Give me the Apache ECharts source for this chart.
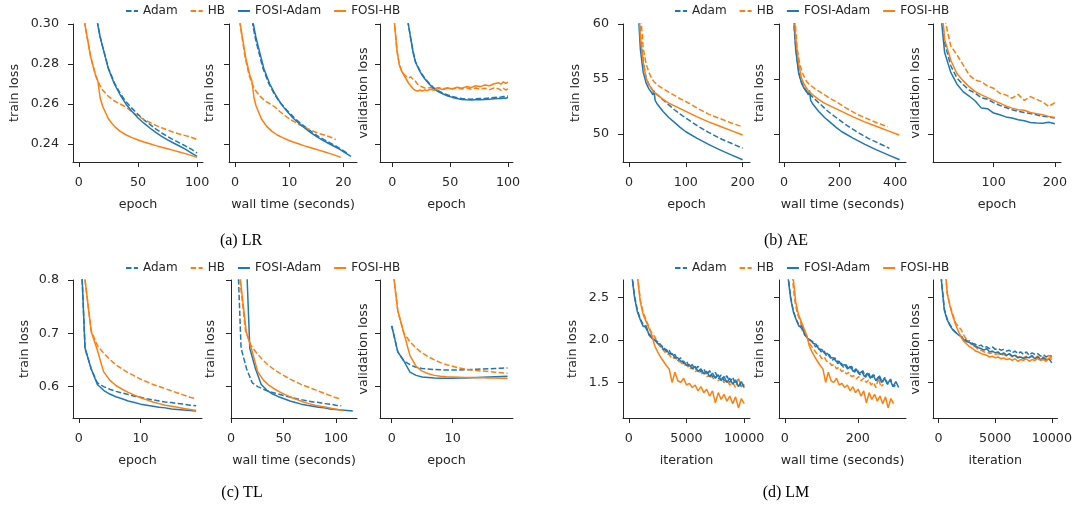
<!DOCTYPE html>
<html><head><meta charset="utf-8">
<script src="https://cdn.jsdelivr.net/npm/echarts@6/dist/echarts.min.js"></script>
<style>html,body{margin:0;padding:0;background:#fff}#c{width:1075px;height:508px}</style>
</head><body><div id="c"></div>
<script>
// ---------------- DATA ----------------
const SERIES_NAMES = ['Adam', 'HB', 'FOSI-Adam', 'FOSI-HB'];

// (a) LR
const LR_EPOCHS = [0,5,10,14,16,18,20,25,30,35,40,45,50,55,60,65,70,75,80,85,90,95,100];
const LR_TRAIN_ADAM      = [0.40,0.355,0.325,0.308,0.2995,0.2935,0.2888,0.2779,0.2706,0.2652,0.2610,0.2578,0.2548,0.2521,0.2498,0.2476,0.2455,0.2437,0.2421,0.2406,0.2391,0.2374,0.2356];
const LR_TRAIN_HB        = [0.345,0.300,0.2835,0.2745,0.2715,0.2690,0.2670,0.2638,0.2615,0.2600,0.2583,0.2560,0.2540,0.2522,0.2508,0.2493,0.2481,0.2470,0.2459,0.2450,0.2442,0.2434,0.2422];
const LR_TRAIN_FOSI_ADAM = [0.40,0.355,0.325,0.308,0.2995,0.2935,0.2888,0.2775,0.2700,0.2645,0.2598,0.2562,0.2530,0.2504,0.2480,0.2458,0.2438,0.2421,0.2405,0.2390,0.2374,0.2356,0.2338];
const LR_TRAIN_FOSI_HB   = [0.345,0.300,0.2835,0.2745,0.2715,0.2630,0.2590,0.2525,0.2488,0.2463,0.2445,0.2432,0.2420,0.2410,0.2401,0.2392,0.2384,0.2376,0.2368,0.2360,0.2352,0.2343,0.2333];
const LR_TIME_ADAM      = [0,1.03,2.06,2.88,3.30,3.71,4.12,5.15,6.18,7.21,8.24,9.27,10.30,11.33,12.36,13.39,14.42,15.45,16.48,17.51,18.54,19.57,20.60];
const LR_TIME_HB        = [0,0.93,1.86,2.60,2.98,3.35,3.72,4.65,5.58,6.51,7.44,8.37,9.30,10.23,11.16,12.09,13.02,13.95,14.88,15.81,16.74,17.67,18.60];
const LR_TIME_FOSI_ADAM = [0,1.07,2.14,3.00,3.42,3.85,4.28,5.35,6.42,7.49,8.56,9.63,10.70,11.77,12.84,13.91,14.98,16.05,17.12,18.19,19.26,20.33,21.40];
const LR_TIME_FOSI_HB   = [0,0.98,1.95,2.73,3.12,3.51,3.90,4.88,5.85,6.83,7.80,8.78,9.75,10.73,11.70,12.68,13.65,14.63,15.60,16.58,17.55,18.53,19.50];
const LR_VAL_EPOCHS = [0,2,4,6,8,10,12,14,16,18,20,22,24,26,28,30,33,36,40,44,48,52,56,60,64,68,72,76,80,84,88,92,94,96,98,100];
const LR_VAL_ADAM      = [0.42,0.39,0.36,0.34,0.325,0.314,0.306,0.2995,0.2925,0.2860,0.2812,0.2788,0.2766,0.2746,0.2730,0.2716,0.2697,0.2680,0.2665,0.2654,0.2645,0.2637,0.2631,0.2627,0.2625,0.2624,0.2626,0.2627,0.2628,0.2630,0.2632,0.2634,0.2635,0.2637,0.2638,0.2640];
const LR_VAL_HB        = [0.35,0.300,0.2870,0.2800,0.2768,0.2750,0.2738,0.2730,0.2736,0.2722,0.2714,0.2698,0.2690,0.2685,0.2680,0.2678,0.2683,0.2676,0.2682,0.2676,0.2681,0.2676,0.2680,0.2675,0.2681,0.2674,0.2680,0.2673,0.2679,0.2672,0.2680,0.2676,0.2668,0.2678,0.2670,0.2676];
const LR_VAL_FOSI_ADAM = [0.42,0.39,0.36,0.34,0.325,0.314,0.306,0.2995,0.2925,0.2860,0.2810,0.2785,0.2762,0.2742,0.2726,0.2712,0.2693,0.2676,0.2661,0.2650,0.2640,0.2633,0.2627,0.2623,0.2621,0.2620,0.2621,0.2621,0.2623,0.2624,0.2626,0.2628,0.2627,0.2630,0.2629,0.2632];
const LR_VAL_FOSI_HB   = [0.35,0.300,0.2872,0.2797,0.2765,0.2745,0.2725,0.2705,0.2690,0.2676,0.2668,0.2664,0.2670,0.2665,0.2671,0.2667,0.2674,0.2669,0.2677,0.2672,0.2680,0.2675,0.2684,0.2679,0.2687,0.2682,0.2691,0.2687,0.2695,0.2691,0.2701,0.2706,0.2699,0.2711,0.2703,0.2709];

// (b) AE
const AE_EPOCHS = [0,10,15,18,20,25,30,35,40,42,44,46,50,60,70,80,90,100,120,140,160,180,200];
const AE_TRAIN_ADAM      = [90,70,64,60.8,59.0,56.6,55.1,54.5,54.1,53.95,53.8,53.7,53.55,53.1,52.65,52.2,51.8,51.45,50.75,50.15,49.6,49.15,48.7];
const AE_TRAIN_HB        = [95,75,67,63.0,61.2,57.8,56.4,55.6,55.05,54.9,54.75,54.6,54.45,54.1,53.8,53.5,53.2,52.95,52.35,51.8,51.4,51.0,50.65];
const AE_TRAIN_FOSI_ADAM = [90,68,63,59.5,57.7,55.6,54.65,54.1,53.75,53.55,53.95,53.05,52.7,52.05,51.5,51.05,50.6,50.2,49.6,49.05,48.55,48.1,47.65];
const AE_TRAIN_FOSI_HB   = [90,70,64,60.8,58.8,56.5,55.1,54.5,54.1,53.95,53.8,53.7,53.55,53.15,52.8,52.55,52.3,52.05,51.55,51.1,50.7,50.3,49.9];
const AE_TIME_ADAM      = [0,19.0,28.4,34.1,37.9,47.4,56.9,66.3,75.8,79.6,83.4,87.2,94.8,113.7,132.7,151.6,170.6,189.5,227.4,265.3,303.2,341.1,379.0];
const AE_TIME_HB        = [0,18.7,28.0,33.6,37.3,46.6,56.0,65.3,74.6,78.3,82.1,85.8,93.3,111.9,130.6,149.2,167.9,186.5,223.8,261.1,298.4,335.7,373.0];
const AE_TIME_FOSI_ADAM = [0,20.8,31.2,37.4,41.6,52.0,62.4,72.8,83.2,87.4,91.5,95.7,104.0,124.8,145.6,166.4,187.2,208.0,249.6,291.2,332.8,374.4,416.0];
const AE_TIME_FOSI_HB   = [0,20.7,31.1,37.3,41.4,51.8,62.1,72.5,82.8,86.9,91.1,95.2,103.5,124.2,144.9,165.6,186.3,207.0,248.4,289.8,331.2,372.6,414.0];
const AE_VAL_EPOCHS = [0,10,20,30,40,50,60,70,80,90,100,110,120,130,140,150,160,170,180,190,200];
const AE_VAL_ADAM      = [95,64,58.3,56.2,55.1,54.5,54.0,53.7,53.3,53.15,52.85,52.6,52.4,52.2,52.05,51.95,51.85,51.75,51.6,51.55,51.45];
const AE_VAL_HB        = [100,70,60.5,58.0,57.2,56.3,55.35,54.9,54.75,54.35,54.15,53.7,53.55,53.25,53.6,53.05,53.4,53.15,52.9,52.5,52.85];
const AE_VAL_FOSI_ADAM = [95,63,57.4,55.6,54.55,53.85,53.45,53.0,52.35,52.3,51.9,51.75,51.55,51.45,51.3,51.2,51.05,51.0,50.98,51.06,50.92];
const AE_VAL_FOSI_HB   = [95,65,58.6,56.7,55.5,54.85,54.3,53.85,53.55,53.3,53.05,52.8,52.55,52.35,52.2,52.15,51.95,51.85,51.75,51.6,51.5];

// (c) TL
const TL_EPOCHS = [0,1,2,3,4,5,6,7,8,9,10,11,12,13,14,15,16,17,18,19];
const TL_TRAIN_ADAM      = [0.95,0.672,0.633,0.607,0.600,0.595,0.591,0.588,0.585,0.582,0.580,0.577,0.575,0.573,0.571,0.570,0.568,0.567,0.565,0.564];
const TL_TRAIN_HB        = [1.2,0.80,0.705,0.677,0.663,0.651,0.641,0.633,0.626,0.620,0.614,0.609,0.604,0.600,0.596,0.592,0.588,0.584,0.580,0.577];
const TL_TRAIN_FOSI_ADAM = [0.95,0.672,0.633,0.604,0.593,0.586,0.581,0.577,0.573,0.570,0.567,0.565,0.563,0.561,0.560,0.558,0.557,0.556,0.555,0.554];
const TL_TRAIN_FOSI_HB   = [1.2,0.80,0.703,0.668,0.628,0.612,0.602,0.595,0.589,0.584,0.579,0.575,0.571,0.568,0.565,0.563,0.561,0.559,0.557,0.555];
const TL_TIME_ADAM      = [4.3,9.6,14.9,20.2,25.5,30.8,36.1,41.4,46.7,52.0,57.3,62.6,67.9,73.2,78.5,83.8,89.1,94.4,99.7,105.0];
const TL_TIME_HB        = [3.2,8.5,13.8,19.1,24.4,29.7,35.0,40.3,45.6,50.9,56.2,61.5,66.8,72.1,77.4,82.7,88.0,93.3,98.6,103.9];
const TL_TIME_FOSI_ADAM = [12.5,17.9,23.4,28.8,34.3,39.7,45.2,50.6,56.1,61.5,67.0,72.4,77.9,83.3,88.8,94.2,99.7,105.1,110.6,116.0];
const TL_TIME_FOSI_HB   = [3.5,9.0,14.5,19.9,25.4,30.8,36.3,41.7,47.2,52.6,58.1,63.5,69.0,74.4,79.9,85.3,90.8,96.2,101.7,107.1];
const TL_VAL_ADAM      = [0.714,0.665,0.648,0.641,0.636,0.634,0.633,0.632,0.6315,0.631,0.631,0.631,0.6315,0.632,0.6325,0.633,0.6335,0.634,0.6345,0.635];
const TL_VAL_HB        = [0.838,0.742,0.700,0.684,0.672,0.663,0.656,0.650,0.645,0.641,0.638,0.635,0.633,0.631,0.630,0.629,0.628,0.627,0.626,0.625];
const TL_VAL_FOSI_ADAM = [0.714,0.665,0.648,0.627,0.621,0.618,0.617,0.616,0.6155,0.6155,0.6155,0.616,0.616,0.6165,0.617,0.6175,0.618,0.6185,0.619,0.6195];
const TL_VAL_FOSI_HB   = [0.838,0.742,0.700,0.658,0.638,0.629,0.624,0.621,0.6195,0.6185,0.618,0.6175,0.617,0.617,0.6165,0.6165,0.616,0.616,0.6155,0.6155];

// (d) LM
const LM_ITERS = [0,250,500,750,1000,1250,1500,1750,2000,2250,2500,2750,3000,3250,3500,3750,4000,4250,4500,4750,5000,5250,5500,5750,6000,6250,6500,6750,7000,7250,7500,7750,8000,8250,8500,8750,9000,9250,9500,9750,10000];
const LM_TRAIN_ADAM      = [4.0,2.80,2.52,2.35,2.25,2.18,2.14,2.07,2.04,2.00,1.98,1.92,1.93,1.86,1.88,1.81,1.83,1.76,1.79,1.72,1.75,1.68,1.71,1.65,1.69,1.62,1.66,1.59,1.64,1.56,1.62,1.54,1.59,1.52,1.58,1.50,1.56,1.48,1.54,1.45,1.47];
const LM_TRAIN_HB        = [5.0,4.0,3.2,2.76,2.47,2.32,2.24,2.15,2.08,2.04,1.96,1.92,1.88,1.84,1.83,1.78,1.80,1.75,1.74,1.70,1.71,1.66,1.68,1.63,1.64,1.60,1.62,1.57,1.58,1.54,1.57,1.52,1.55,1.50,1.53,1.47,1.50,1.44,1.55,1.45,1.48];
const LM_TRAIN_FOSI_ADAM = [4.0,2.78,2.50,2.33,2.24,2.16,2.17,2.06,2.02,2.00,1.96,1.95,1.89,1.89,1.84,1.84,1.79,1.79,1.75,1.75,1.70,1.71,1.66,1.69,1.63,1.66,1.60,1.63,1.57,1.61,1.55,1.59,1.52,1.57,1.50,1.55,1.48,1.53,1.45,1.51,1.44];
const LM_TRAIN_FOSI_HB   = [5.0,4.0,3.2,2.75,2.45,2.30,2.22,2.14,2.06,1.93,1.86,1.80,1.75,1.70,1.66,1.50,1.62,1.52,1.50,1.55,1.47,1.49,1.44,1.47,1.40,1.45,1.38,1.42,1.34,1.40,1.26,1.38,1.30,1.36,1.28,1.34,1.25,1.33,1.20,1.31,1.25];
const LM_TIME_ADAM      = [0,7.6,15.3,22.9,30.5,38.1,45.8,53.4,61.0,68.6,76.3,83.9,91.5,99.1,106.8,114.4,122.0,129.6,137.3,144.9,152.5,160.1,167.8,175.4,183.0,190.6,198.3,205.9,213.5,221.1,228.8,236.4,244.0,251.6,259.3,266.9,274.5,282.1,289.8,297.4,305.0];
const LM_TIME_HB        = [0,6.8,13.5,20.3,27.0,33.8,40.5,47.3,54.0,60.8,67.5,74.3,81.0,87.8,94.5,101.3,108.0,114.8,121.5,128.3,135.0,141.8,148.5,155.3,162.0,168.8,175.5,182.3,189.0,195.8,202.5,209.3,216.0,222.8,229.5,236.3,243.0,249.8,256.5,263.3,270.0];
const LM_TIME_FOSI_ADAM = [0,7.8,15.6,23.4,31.2,39.0,46.8,54.6,62.4,70.2,78.0,85.8,93.6,101.4,109.2,117.0,124.8,132.6,140.4,148.2,156.0,163.8,171.6,179.4,187.2,195.0,202.8,210.6,218.4,226.2,234.0,241.8,249.6,257.4,265.2,273.0,280.8,288.6,296.4,304.2,312.0];
const LM_TIME_FOSI_HB   = [0,7.5,14.9,22.4,29.8,37.3,44.7,52.2,59.6,67.1,74.5,82.0,89.4,96.9,104.3,111.8,119.2,126.7,134.1,141.6,149.0,156.5,163.9,171.4,178.8,186.3,193.7,201.2,208.6,216.1,223.5,231.0,238.4,245.9,253.3,260.8,268.2,275.7,283.1,290.6,298.0];
const LM_VAL_ADAM      = [3.5,2.70,2.37,2.25,2.18,2.13,2.09,2.07,2.04,2.02,1.99,1.99,1.96,1.95,1.93,1.94,1.91,1.92,1.90,1.92,1.89,1.90,1.88,1.89,1.87,1.88,1.85,1.87,1.84,1.86,1.83,1.86,1.82,1.85,1.83,1.84,1.81,1.83,1.80,1.82,1.81];
const LM_VAL_HB        = [5.0,3.8,3.0,2.56,2.41,2.30,2.20,2.16,2.12,2.05,2.00,1.97,1.93,1.92,1.89,1.88,1.86,1.86,1.84,1.85,1.83,1.84,1.82,1.83,1.81,1.83,1.80,1.82,1.80,1.81,1.79,1.81,1.80,1.82,1.79,1.81,1.78,1.80,1.78,1.82,1.79];
const LM_VAL_FOSI_ADAM = [3.5,2.69,2.35,2.24,2.17,2.12,2.09,2.06,2.04,2.00,1.98,1.97,1.95,1.93,1.91,1.90,1.88,1.90,1.86,1.87,1.85,1.86,1.83,1.85,1.82,1.84,1.81,1.82,1.79,1.80,1.78,1.80,1.79,1.81,1.78,1.80,1.77,1.79,1.76,1.78,1.73];
const LM_VAL_FOSI_HB   = [5.0,3.8,3.0,2.55,2.40,2.28,2.18,2.10,2.03,1.98,1.95,1.92,1.90,1.87,1.86,1.84,1.83,1.82,1.80,1.81,1.79,1.80,1.78,1.79,1.77,1.78,1.76,1.78,1.75,1.77,1.76,1.78,1.75,1.77,1.76,1.78,1.76,1.77,1.75,1.79,1.77];

// tick labels
const LR_YTICKS = [0.24,0.26,0.28,0.30];
const AE_YTICKS = [50,55,60];
const TL_YTICKS = [0.6,0.7,0.8];
const LM_YTICKS = [1.5,2.0,2.5];
const LR_XTICKS_EPOCH = [0,50,100];
const LR_XTICKS_TIME = [0,10,20];
const AE_XTICKS_EPOCH = [0,100,200];
const AE_XTICKS_TIME = [0,200,400];
const AE_XTICKS_VAL = [100,200];
const TL_XTICKS_EPOCH = [0,10];
const TL_XTICKS_TIME = [0,50,100];
const LM_XTICKS_ITER = [0,5000,10000];
const LM_XTICKS_TIME = [0,200];
const CAPTIONS = ['(a) LR','(b) AE','(c) TL','(d) LM'];

// ---------------- CHART ----------------
const FONT = 'DejaVu Sans';
const TXT = '#262626';
const FS = 12.7;
const COLORS = {'Adam':'#1f77b4','HB':'#ff7f0e','FOSI-Adam':'#1f77b4','FOSI-HB':'#ff7f0e'};
const DASHED = {'Adam':true,'HB':true,'FOSI-Adam':false,'FOSI-HB':false};

const YSPEC = {
  LR:{min:0.231,max:0.30,ticks:LR_YTICKS,fmt:v=>v.toFixed(2)},
  AE:{min:47.45,max:60,ticks:AE_YTICKS,fmt:v=>String(Math.round(v))},
  TL:{min:0.541,max:0.8,ticks:TL_YTICKS,fmt:v=>v.toFixed(1)},
  LM:{min:1.081,max:2.708,ticks:LM_YTICKS,fmt:v=>v.toFixed(1)}
};

const PANELS = [
  {ds:'LR',box:[73,24,130,138],xr:[-5,105],xt:LR_XTICKS_EPOCH,xname:'epoch',yname:'train loss',ygap:52,ylab:true,
   lines:[[LR_EPOCHS,LR_TRAIN_ADAM],[LR_EPOCHS,LR_TRAIN_HB],[LR_EPOCHS,LR_TRAIN_FOSI_ADAM],[LR_EPOCHS,LR_TRAIN_FOSI_HB]]},
  {ds:'LR',box:[229,24,128,138],xr:[-1.1,22.5],xt:LR_XTICKS_TIME,xname:'wall time (seconds)',yname:'train loss',ygap:13,ylab:false,
   lines:[[LR_TIME_ADAM,LR_TRAIN_ADAM],[LR_TIME_HB,LR_TRAIN_HB],[LR_TIME_FOSI_ADAM,LR_TRAIN_FOSI_ADAM],[LR_TIME_FOSI_HB,LR_TRAIN_FOSI_HB]]},
  {ds:'LR',box:[380,24,133,138],xr:[-10.6,104.3],xt:LR_XTICKS_EPOCH,xname:'epoch',yname:'validation loss',ygap:10,ylab:false,
   lines:[[LR_VAL_EPOCHS,LR_VAL_ADAM],[LR_VAL_EPOCHS,LR_VAL_HB],[LR_VAL_EPOCHS,LR_VAL_FOSI_ADAM],[LR_VAL_EPOCHS,LR_VAL_FOSI_HB]]},
  {ds:'AE',box:[623,24,127,138],xr:[-10.6,213],xt:AE_XTICKS_EPOCH,xname:'epoch',yname:'train loss',ygap:41,ylab:true,
   lines:[[AE_EPOCHS,AE_TRAIN_ADAM],[AE_EPOCHS,AE_TRAIN_HB],[AE_EPOCHS,AE_TRAIN_FOSI_ADAM],[AE_EPOCHS,AE_TRAIN_FOSI_HB]]},
  {ds:'AE',box:[779,24,127,138],xr:[-18.4,439],xt:AE_XTICKS_TIME,xname:'wall time (seconds)',yname:'train loss',ygap:13,ylab:false,
   lines:[[AE_TIME_ADAM,AE_TRAIN_ADAM],[AE_TIME_HB,AE_TRAIN_HB],[AE_TIME_FOSI_ADAM,AE_TRAIN_FOSI_ADAM],[AE_TIME_FOSI_HB,AE_TRAIN_FOSI_HB]]},
  {ds:'AE',box:[933,24,128,138],xr:[1,210],xt:AE_XTICKS_VAL,xname:'epoch',yname:'validation loss',ygap:11,ylab:false,
   lines:[[AE_VAL_EPOCHS,AE_VAL_ADAM],[AE_VAL_EPOCHS,AE_VAL_HB],[AE_VAL_EPOCHS,AE_VAL_FOSI_ADAM],[AE_VAL_EPOCHS,AE_VAL_FOSI_HB]]},
  {ds:'TL',box:[73,280,129,138],xr:[-0.95,19.95],xt:TL_XTICKS_EPOCH,xname:'epoch',yname:'train loss',ygap:42,ylab:true,
   lines:[[TL_EPOCHS,TL_TRAIN_ADAM],[TL_EPOCHS,TL_TRAIN_HB],[TL_EPOCHS,TL_TRAIN_FOSI_ADAM],[TL_EPOCHS,TL_TRAIN_FOSI_HB]]},
  {ds:'TL',box:[231,280,126,138],xr:[0,120],xt:TL_XTICKS_TIME,xname:'wall time (seconds)',yname:'train loss',ygap:14,ylab:false,
   lines:[[TL_TIME_ADAM,TL_TRAIN_ADAM],[TL_TIME_HB,TL_TRAIN_HB],[TL_TIME_FOSI_ADAM,TL_TRAIN_FOSI_ADAM],[TL_TIME_FOSI_HB,TL_TRAIN_FOSI_HB]]},
  {ds:'TL',box:[380,280,133,138],xr:[-1.92,19.9],xt:TL_XTICKS_EPOCH,xname:'epoch',yname:'validation loss',ygap:10,ylab:false,
   lines:[[TL_EPOCHS,TL_VAL_ADAM],[TL_EPOCHS,TL_VAL_HB],[TL_EPOCHS,TL_VAL_FOSI_ADAM],[TL_EPOCHS,TL_VAL_FOSI_HB]]},
  {ds:'LM',box:[623,280,127,138],xr:[-500,10500],xt:LM_XTICKS_ITER,xname:'iteration',yname:'train loss',ygap:44,ylab:true,
   lines:[[LM_ITERS,LM_TRAIN_ADAM],[LM_ITERS,LM_TRAIN_HB],[LM_ITERS,LM_TRAIN_FOSI_ADAM],[LM_ITERS,LM_TRAIN_FOSI_HB]]},
  {ds:'LM',box:[779,280,127,138],xr:[-16,332],xt:LM_XTICKS_TIME,xname:'wall time (seconds)',yname:'train loss',ygap:13,ylab:false,
   lines:[[LM_TIME_ADAM,LM_TRAIN_ADAM],[LM_TIME_HB,LM_TRAIN_HB],[LM_TIME_FOSI_ADAM,LM_TRAIN_FOSI_ADAM],[LM_TIME_FOSI_HB,LM_TRAIN_FOSI_HB]]},
  {ds:'LM',box:[933,280,128,138],xr:[-500,10500],xt:LM_XTICKS_ITER,xname:'iteration',yname:'validation loss',ygap:11,ylab:false,
   lines:[[LM_ITERS,LM_VAL_ADAM],[LM_ITERS,LM_VAL_HB],[LM_ITERS,LM_VAL_FOSI_ADAM],[LM_ITERS,LM_VAL_FOSI_HB]]}
];

const nameStyle = {fontSize:FS,color:TXT,fontFamily:FONT};
const grid=[], xAxis=[], yAxis=[], series=[];
PANELS.forEach((p,i)=>{
  grid.push({left:p.box[0],top:p.box[1],width:p.box[2],height:p.box[3],containLabel:false});
  xAxis.push({type:'value',gridIndex:i,min:p.xr[0],max:p.xr[1],splitLine:{show:false},
    axisLine:{show:true,onZero:false,lineStyle:{color:TXT,width:1}},
    axisTick:{show:true,length:5,customValues:p.xt,lineStyle:{color:TXT,width:1}},
    axisLabel:{customValues:p.xt,margin:14,fontSize:FS,color:TXT,fontFamily:FONT,formatter:v=>String(v)},
    name:p.xname,nameLocation:'middle',nameGap:36,nameTextStyle:nameStyle});
  const ys = YSPEC[p.ds];
  yAxis.push({type:'value',gridIndex:i,min:ys.min,max:ys.max,splitLine:{show:false},
    axisLine:{show:true,onZero:false,lineStyle:{color:TXT,width:1}},
    axisTick:{show:true,length:5,customValues:ys.ticks,lineStyle:{color:TXT,width:1}},
    axisLabel:{show:p.ylab,customValues:ys.ticks,margin:14,fontSize:FS,color:TXT,fontFamily:FONT,formatter:ys.fmt},
    name:p.yname,nameLocation:'middle',nameRotate:90,nameGap:p.ygap,nameTextStyle:nameStyle});
  p.lines.forEach((ln,k)=>{
    const nm = SERIES_NAMES[k];
    series.push({type:'line',name:nm,xAxisIndex:i,yAxisIndex:i,
      data:ln[0].map((x,j)=>[x,ln[1][j]]),
      symbol:'none',showSymbol:false,clip:true,silent:true,z:2+k,
      lineStyle:{width:1.5,color:COLORS[nm],type:DASHED[nm]?[5.5,2.4]:'solid'},
      itemStyle:{color:COLORS[nm]}});
  });
});

const LEGEND_POS = [[125,5],[674,5],[125,262],[674,262]];
const legend = LEGEND_POS.map(([l,t])=>({left:l,top:t,padding:0,itemWidth:12,itemHeight:14,itemGap:12,
  selectedMode:false,data:SERIES_NAMES,itemStyle:{opacity:0},
  textStyle:{fontSize:12,color:TXT,fontFamily:FONT}}));

const CAP_POS = [[241,241],[786,241],[242,493],[786,493]];
const graphic = CAPTIONS.map((t,i)=>({type:'text',x:CAP_POS[i][0],y:CAP_POS[i][1],silent:true,
  style:{text:t,fill:'#000',font:'16px "Liberation Serif"',fontSize:16,fontFamily:'Liberation Serif',
    align:'center',verticalAlign:'middle',textAlign:'center',textVerticalAlign:'middle'}}));

const chart = echarts.init(document.getElementById('c'));
chart.setOption({animation:false,backgroundColor:'#fff',legend,grid,xAxis,yAxis,series,graphic});
</script></body></html>
